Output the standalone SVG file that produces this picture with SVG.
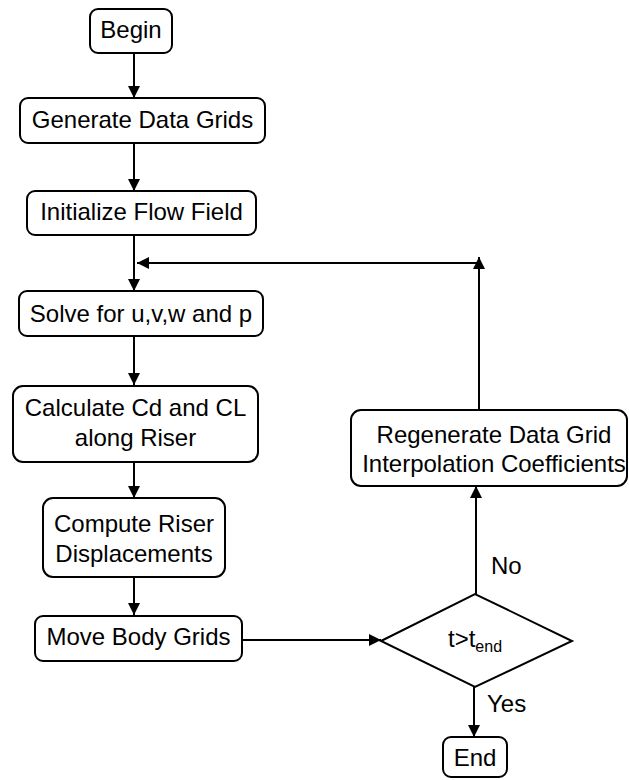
<svg xmlns="http://www.w3.org/2000/svg" width="629" height="780" viewBox="0 0 629 780">
<style>
.box{fill:#fff;stroke:#000;stroke-width:2}
.t{font-family:"Liberation Sans",Arial,sans-serif;font-size:24px;fill:#000;text-anchor:middle}
.l{font-family:"Liberation Sans",Arial,sans-serif;font-size:24px;fill:#000}
.c{fill:none;stroke:#000;stroke-width:2}
</style>
<defs>
<marker id="ah" markerUnits="userSpaceOnUse" markerWidth="12" markerHeight="12" refX="12" refY="6" orient="auto">
<path d="M0,0 L12,6 L0,12 z" fill="#000"/>
</marker>
</defs>
<g id="connectors">
<line class="c" x1="134" y1="53" x2="134" y2="98" marker-end="url(#ah)"/>
<line class="c" x1="134" y1="143" x2="134" y2="191" marker-end="url(#ah)"/>
<line class="c" x1="134" y1="235" x2="134" y2="291" marker-end="url(#ah)"/>
<line class="c" x1="134" y1="336" x2="134" y2="385" marker-end="url(#ah)"/>
<line class="c" x1="134" y1="462" x2="134" y2="498" marker-end="url(#ah)"/>
<line class="c" x1="134" y1="577" x2="134" y2="615" marker-end="url(#ah)"/>
<line class="c" x1="242" y1="640" x2="381" y2="640" marker-end="url(#ah)"/>
<line class="c" x1="476" y1="594" x2="476" y2="486" marker-end="url(#ah)"/>
<line class="c" x1="474" y1="687" x2="474" y2="737" marker-end="url(#ah)"/>
<line class="c" x1="479" y1="410" x2="479" y2="257" marker-end="url(#ah)"/>
<line class="c" x1="479" y1="263" x2="137" y2="263" marker-end="url(#ah)"/>
</g>
<g id="begin">
<rect class="box" x="90" y="9" width="82" height="44" rx="8"/>
<text class="t" x="131" y="38">Begin</text>
</g>
<g id="generate">
<rect class="box" x="20" y="98" width="245" height="45" rx="8"/>
<text class="t" x="142.5" y="128">Generate Data Grids</text>
</g>
<g id="initialize">
<rect class="box" x="27" y="191" width="229" height="44" rx="8"/>
<text class="t" x="141.5" y="220">Initialize Flow Field</text>
</g>
<g id="solve">
<rect class="box" x="19" y="291" width="244" height="45" rx="8"/>
<text class="t" x="141" y="322">Solve for u,v,w and p</text>
</g>
<g id="calculate">
<rect class="box" x="13" y="386" width="245" height="76" rx="10"/>
<text class="t" x="135.5" y="416">Calculate Cd and CL</text>
<text class="t" x="135.5" y="446">along Riser</text>
</g>
<g id="compute">
<rect class="box" x="43" y="498" width="182" height="79" rx="10"/>
<text class="t" x="134" y="532">Compute Riser</text>
<text class="t" x="134" y="562">Displacements</text>
</g>
<g id="move">
<rect class="box" x="35" y="616" width="207" height="45" rx="8"/>
<text class="t" x="138.5" y="645">Move Body Grids</text>
</g>
<g id="regenerate">
<rect class="box" x="351" y="410" width="276" height="76" rx="10"/>
<text class="t" x="494" y="443">Regenerate Data Grid</text>
<text class="t" x="494" y="472">Interpolation Coefficients</text>
</g>
<g id="decision">
<polygon class="box" points="381,641 475,594 572,641 475,687"/>
<text class="l" x="448" y="647">t&gt;t<tspan font-size="16" dy="5">end</tspan></text>
</g>
<g id="end">
<rect class="box" x="443" y="737" width="64" height="40" rx="8"/>
<text class="t" x="475" y="766">End</text>
</g>
<g id="labels">
<text class="l" x="491" y="574">No</text>
<text class="l" x="487" y="712">Yes</text>
</g>
</svg>
